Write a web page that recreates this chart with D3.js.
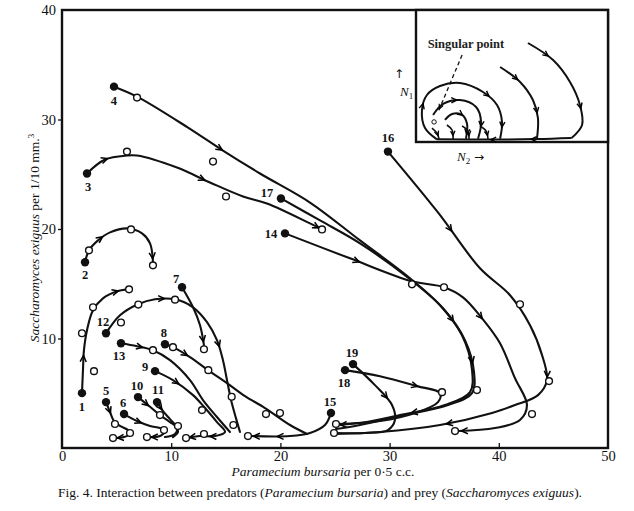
<!DOCTYPE html>
<html><head><meta charset="utf-8">
<script src="https://cdn.jsdelivr.net/npm/d3@7"></script>
<style>body{margin:0;background:#fff}svg{display:block}</style>
</head><body>
<svg id="c" width="634" height="511"></svg>
<script>
// ---------- data (Paramecium bursaria N2 on x, Saccharomyces exiguus N1 on y) ----------
const xTicks = [0, 10, 20, 30, 40, 50];
const yTicks = [10, 20, 30, 40];
const trajIds = [1,2,3,4,5,6,7,8,9,10,11,12,13,14,15,16,17,18,19];

const path1 = [[1.83,5.01],[1.92,7.11],[2.01,8.93],[2.29,10.76],[2.84,12.58],[3.75,13.67],[5.04,14.31],[5.95,14.49]];
const obs1  = [[2.93,7.02],[1.83,10.48],[2.84,12.85],[6.14,14.49]];
const path2 = [[2.11,16.96],[2.47,18.05],[3.30,18.96],[4.40,19.69],[6.04,20.05],[7.33,19.60],[8.06,18.69],[8.33,16.96]];
const obs2  = [[2.47,18.05],[6.32,19.96],[8.33,16.68]];
const path3 = [[2.29,25.07],[3.94,26.34],[5.95,26.71],[6.87,26.71],[10.53,25.61],[13.55,24.25],[16.58,22.97],[18.77,22.33],[22.71,20.51],[23.81,19.96]];
const obs3  = [[5.95,27.07],[15.02,22.97],[23.81,19.96]];
const path4 = [[4.76,33.0],[6.87,32.09],[11.54,29.26],[14.74,27.16],[18.13,25.07],[22.71,22.42],[27.29,18.96],[31.87,15.50],[34.62,13.04],[36.63,10.30],[37.55,7.11],[37.36,5.10],[35.07,3.92],[30.95,3.01],[27.29,2.28],[25.18,2.10]];
const obs4  = [[6.87,32.0],[13.83,26.16],[25.09,2.19]];
const path5 = [[4.03,4.19],[4.40,3.28],[4.76,2.46],[5.31,2.01],[6.04,1.64],[6.23,1.28],[5.68,1.0],[4.76,0.91]];
const obs5  = [[4.85,2.19],[6.23,1.37],[4.67,0.91]];
const path6 = [[5.68,3.10],[6.87,2.46],[8.06,2.01],[8.97,1.82],[9.43,1.55],[8.97,1.09],[7.88,1.0]];
const obs6  = [[9.34,1.64],[7.78,1.0]];
const path7 = [[10.99,14.68],[12.0,12.85],[12.64,11.21],[13.0,9.39]];
const obs7  = [[13.0,9.02]];
const path8 = [[9.43,9.48],[10.16,9.21],[11.72,8.30],[13.37,7.11],[15.11,5.93],[16.76,4.74],[18.59,3.65],[20.88,2.10],[22.44,1.28]];
const obs8  = [[10.16,9.21],[13.40,7.11],[18.68,3.10],[19.96,3.19]];
const path9 = [[8.52,7.02],[10.16,6.20],[12.0,4.83],[13.10,3.65],[14.19,2.37],[14.93,1.46],[14.01,1.09],[12.64,1.09],[11.36,0.91]];
const obs9  = [[15.69,2.10],[13.0,1.28],[11.36,0.91]];
const path10 = [[6.96,4.65],[7.97,3.83],[8.97,3.01],[9.89,2.37],[10.53,1.82],[10.35,1.28],[9.43,1.0]];
const obs10  = [[8.97,3.01],[10.62,2.01]];
const path11 = [[8.70,4.19],[9.25,3.37],[9.89,2.64],[10.44,2.01],[10.62,1.46],[10.16,1.0]];
const obs11  = [];
const path12 = [[4.03,10.48],[5.31,12.12],[6.96,13.13],[8.52,13.58],[10.35,13.58],[12.0,12.85],[13.28,11.49],[14.19,9.85],[14.74,8.02],[15.11,6.20],[15.48,4.38],[15.93,2.73],[16.30,1.46]];
const obs12  = [[5.40,11.46],[6.99,13.10],[10.35,13.55],[15.54,4.68]];
const path13 = [[5.40,9.57],[6.87,9.30],[8.33,8.93],[9.89,8.02],[11.72,6.20],[12.91,4.38],[14.19,2.83],[15.38,1.46]];
const obs13  = [[8.33,8.93],[12.82,3.46]];
const path14 = [[20.42,19.60],[26.37,17.32],[32.05,15.22],[34.98,14.68],[36.72,13.76],[38.46,11.85],[40.11,9.57],[41.48,6.38],[42.58,3.92],[41.94,2.55],[39.65,1.82],[36.26,1.55]];
const obs14  = [[34.98,14.68],[43.04,3.10],[35.99,1.55]];
const path15 = [[24.63,3.19],[24.08,2.10],[22.71,1.37],[20.88,1.09],[17.22,1.09]];
const obs15  = [[17.03,1.09]];
const path16 = [[29.85,27.07],[34.43,21.51],[38.28,16.41],[41.03,13.95],[42.86,11.21],[43.96,8.48],[44.41,6.20],[43.59,4.83],[41.48,3.92],[39.38,3.19],[34.62,2.10],[29.12,1.46],[25.0,1.28]];
const obs16  = [[41.94,13.13],[44.60,6.11]];
const path17 = [[20.05,22.79],[23.63,20.78],[27.29,18.69],[31.87,15.41],[34.89,12.76],[36.90,9.85],[37.73,6.93],[37.55,5.01],[35.35,3.92],[30.95,2.92],[27.29,2.10],[25.09,1.73]];
const obs17  = [[32.05,14.95],[38.0,5.29]];
const path18 = [[25.92,7.11],[29.12,6.56],[32.51,5.65],[34.62,5.01],[34.43,4.19],[32.33,3.19],[29.12,2.46],[25.18,2.19]];
const obs18  = [[34.80,5.10]];
const path19 = [[26.65,7.66],[28.66,5.74],[30.22,3.92],[30.49,2.55],[29.85,1.64],[27.75,1.37],[25.0,1.37]];
const obs19  = [[24.91,1.37]];

// inset schematic (arbitrary N2, N1 units 0..10)
const insetOuter  = [[1.09,0.2],[0.47,1.06],[0.31,2.42],[0.57,3.56],[1.25,4.24],[2.29,4.47],[3.49,3.79],[4.22,2.80],[4.48,1.52],[4.38,0.25]];
const insetMiddle = [[0.89,2.05],[1.41,2.88],[2.29,3.18],[3.13,2.65],[3.39,1.52],[3.23,0.25]];
const insetInner  = [[1.51,1.67],[1.88,2.12],[2.40,2.05],[2.66,1.36],[2.60,0.25]];
const insetArc1   = [[4.38,5.68],[5.42,4.55],[6.09,3.18],[6.35,1.82],[6.30,0.25]];
const insetArc2   = [[5.83,7.5],[7.14,6.21],[8.02,4.55],[8.54,2.80],[8.65,1.29],[8.1,0.3]];
const insetBase   = [[8.1,0.3],[6.3,0.22],[4.0,0.18],[1.09,0.2]];
const insetHooks  = [
  [[0.83,1.06],[1.09,0.68],[1.20,0.23]],
  [[1.61,1.29],[1.88,0.91],[1.93,0.23]],
  [[2.40,1.21],[2.71,0.83],[2.76,0.23]],
  [[3.33,1.21],[3.65,0.83],[3.75,0.23]]
];
const singularPoint = [0.94,1.52];
const singularPointer = [[2.40,6.59],[1.15,2.27]];

// ---------- styles ----------
const arrowAt = {1:[0.3,0.93],2:[0.3,1],3:[0.1,0.5,1],4:[0.2,0.66,0.88,1],5:[0.2,1],6:[0.3,1],7:[1],
  8:[0.15],9:[0.2,0.82,1],10:[0.2],11:[0.2],12:[0.3,0.63],13:[0.15],14:[0.2,0.55,1],15:[0.7,1],
  16:[0.2,0.55,0.78],17:[0.6],18:[0.35],19:[0.35]};
const labelOff = {1:[0,15],2:[0,14],3:[1,15],4:[0,15],5:[0,-10],6:[-1,-10],7:[-6,-7],8:[-1,-10],
  9:[-10,-3],10:[-1,-10],11:[1,-11],12:[-3,-10],13:[-2,14],14:[-14,2],15:[-1,-10],16:[0,-12],
  17:[-14,-4],18:[-1,14],19:[-1,-10]};

const paths = {1:path1,2:path2,3:path3,4:path4,5:path5,6:path6,7:path7,8:path8,9:path9,10:path10,
  11:path11,12:path12,13:path13,14:path14,15:path15,16:path16,17:path17,18:path18,19:path19};
const obs = {1:obs1,2:obs2,3:obs3,4:obs4,5:obs5,6:obs6,7:obs7,8:obs8,9:obs9,10:obs10,
  11:obs11,12:obs12,13:obs13,14:obs14,15:obs15,16:obs16,17:obs17,18:obs18,19:obs19};

const svg = d3.select('#c');
const serif = '"Liberation Serif","DejaVu Serif",serif';
const x = d3.scaleLinear().domain([0,50]).range([62,608]);
const y = d3.scaleLinear().domain([0,40]).range([448,10]);

function chevrons(g, node, fracs, size, sw){
  const L = node.getTotalLength();
  fracs.forEach(f=>{
    let l = f>=1 ? L-3.5 : f*L;
    const p = node.getPointAtLength(l);
    const a0 = node.getPointAtLength(Math.max(0,l-3)), a1 = node.getPointAtLength(Math.min(L,l+3));
    const a = Math.atan2(a1.y-a0.y, a1.x-a0.x);
    const s = size, w = 0.45;
    const d = `M${p.x - s*Math.cos(a-w)},${p.y - s*Math.sin(a-w)}L${p.x},${p.y}L${p.x - s*Math.cos(a+w)},${p.y - s*Math.sin(a+w)}`;
    g.append('path').attr('d', d).attr('fill','none').attr('stroke','#000').attr('stroke-width',sw).attr('stroke-linejoin','miter');
  });
}

// axes
const xAxis = d3.axisBottom(x).tickValues(xTicks).tickSizeInner(-5).tickSizeOuter(0).tickPadding(3).tickFormat(d3.format('d'));
const gx = svg.append('g').attr('transform','translate(0,448)').call(xAxis);
const yAxis = d3.axisLeft(y).tickValues(yTicks).tickSizeInner(4).tickSizeOuter(0).tickPadding(2).tickFormat(d3.format('d'));
const gy = svg.append('g').attr('transform','translate(62,0)').call(yAxis);
[gx,gy].forEach(g=>{
  g.select('.domain').remove();
  g.selectAll('text').attr('font-family',serif).attr('font-size',14.5).attr('fill','#111');
  g.selectAll('line').attr('stroke','#111').attr('stroke-width',1.3);
});
gx.selectAll('.tick').filter(d=>d===0||d===50).select('line').remove();
gy.selectAll('.tick').filter(d=>d===40).select('line').remove();

// frame
svg.append('rect').attr('x',x(0)).attr('y',y(40)).attr('width',x(50)-x(0)).attr('height',y(0)-y(40))
  .attr('fill','none').attr('stroke','#111').attr('stroke-width',2.4);

// trajectories
const line = d3.line().x(d=>x(d[0])).y(d=>y(d[1])).curve(d3.curveCatmullRom.alpha(0.5));
const gT = svg.append('g');
trajIds.forEach(id=>{
  const p = gT.append('path').attr('d', line(paths[id])).attr('fill','none').attr('stroke','#111')
    .attr('stroke-width',2.1).attr('stroke-linecap','round');
  chevrons(gT, p.node(), arrowAt[id], 7, 1.5);
});
const gO = svg.append('g');
trajIds.forEach(id=>{
  gO.selectAll(null).data(obs[id]).enter().append('circle')
    .attr('cx',d=>x(d[0])).attr('cy',d=>y(d[1])).attr('r',3.4)
    .attr('fill','#fff').attr('stroke','#111').attr('stroke-width',1.4);
  const s = paths[id][0];
  gO.append('circle').attr('cx',x(s[0])).attr('cy',y(s[1])).attr('r',4.2).attr('fill','#111');
  gO.append('text').attr('x',x(s[0])+labelOff[id][0]).attr('y',y(s[1])+labelOff[id][1])
    .attr('text-anchor','middle').attr('dominant-baseline','middle')
    .attr('font-family',serif).attr('font-size',12.5).attr('font-weight','bold').attr('fill','#111').text(id);
});

// inset
const ix = d3.scaleLinear().domain([0,10]).range([416,608]);
const iy = d3.scaleLinear().domain([0,10]).range([142,10]);
const gI = svg.append('g');
gI.append('rect').attr('x',416).attr('y',y(40)).attr('width',x(50)-416).attr('height',142-y(40))
  .attr('fill','#fff').attr('stroke','#111').attr('stroke-width',2.4);
const iline = d3.line().x(d=>ix(d[0])).y(d=>iy(d[1])).curve(d3.curveCatmullRom.alpha(0.5));
const insetCurves = [[insetOuter,[0.25,0.72,0.93]],[insetMiddle,[0.35,0.85]],[insetInner,[0.45,0.9]],
  [insetArc1,[0.25,0.7]],[insetArc2,[0.2,0.72]],[insetBase,[0.3,0.6]]];
insetCurves.forEach(([pts,fr])=>{
  const p = gI.append('path').attr('d',iline(pts)).attr('fill','none').attr('stroke','#111').attr('stroke-width',2);
  chevrons(gI, p.node(), fr, 6, 1.4);
});
insetHooks.forEach(pts=>{
  const p = gI.append('path').attr('d',iline(pts)).attr('fill','none').attr('stroke','#111').attr('stroke-width',1.6);
  chevrons(gI, p.node(), [1], 5, 1.3);
});
gI.append('circle').attr('cx',ix(singularPoint[0])).attr('cy',iy(singularPoint[1])).attr('r',2.2)
  .attr('fill','#fff').attr('stroke','#111').attr('stroke-width',1);
const dp = gI.append('path').attr('d',d3.line().x(d=>ix(d[0])).y(d=>iy(d[1]))(singularPointer))
  .attr('fill','none').attr('stroke','#111').attr('stroke-width',1.3).attr('stroke-dasharray','4,3');
chevrons(gI, dp.node(), [1], 5, 1.2);
gI.append('text').attr('x',ix(2.6)).attr('y',iy(7.35)).attr('text-anchor','middle').attr('dominant-baseline','middle')
  .attr('font-family',serif).attr('font-size',12.5).attr('font-weight','bold').attr('fill','#222').text('Singular point');
// inset axis labels
const n1 = svg.append('text').attr('x',400).attr('y',96).attr('font-family',serif).attr('font-size',13).attr('fill','#111');
n1.append('tspan').attr('font-style','italic').text('N');
n1.append('tspan').attr('font-size',9).attr('dy',3).text('1');
svg.append('text').attr('x',399).attr('y',78).attr('text-anchor','middle').attr('font-family','DejaVu Sans').attr('font-size',12).attr('fill','#111').text('↑');
const n2 = svg.append('text').attr('x',457).attr('y',161).attr('font-family',serif).attr('font-size',13).attr('fill','#111');
n2.append('tspan').attr('font-style','italic').text('N');
n2.append('tspan').attr('font-size',9).attr('dy',3).text('2');
n2.append('tspan').attr('dy',-3).attr('font-family','DejaVu Sans').attr('font-size',12).text('  →');

// axis titles
const xl = svg.append('text').attr('x',323).attr('y',476).attr('text-anchor','middle')
  .attr('font-family',serif).attr('font-size',13.5).attr('fill','#111');
xl.append('tspan').attr('font-style','italic').text('Paramecium bursaria');
xl.append('tspan').text(' per 0·5 c.c.');
const yl = svg.append('text').attr('transform','translate(39,238) rotate(-90)').attr('text-anchor','middle')
  .attr('font-family',serif).attr('font-size',13.5).attr('fill','#111');
yl.append('tspan').attr('font-style','italic').text('Saccharomyces exiguus');
yl.append('tspan').text(' per 1/10 mm.');
yl.append('tspan').attr('font-size',9).attr('dy',-5).text('3');

// caption
const cap = svg.append('text').attr('x',320).attr('y',497).attr('text-anchor','middle')
  .attr('font-family',serif).attr('font-size',13.5).attr('fill','#111');
cap.append('tspan').text('Fig. 4.  Interaction between predators (');
cap.append('tspan').attr('font-style','italic').text('Paramecium bursaria');
cap.append('tspan').text(') and prey (');
cap.append('tspan').attr('font-style','italic').text('Saccharomyces exiguus');
cap.append('tspan').text(').');
</script>
</body></html>
